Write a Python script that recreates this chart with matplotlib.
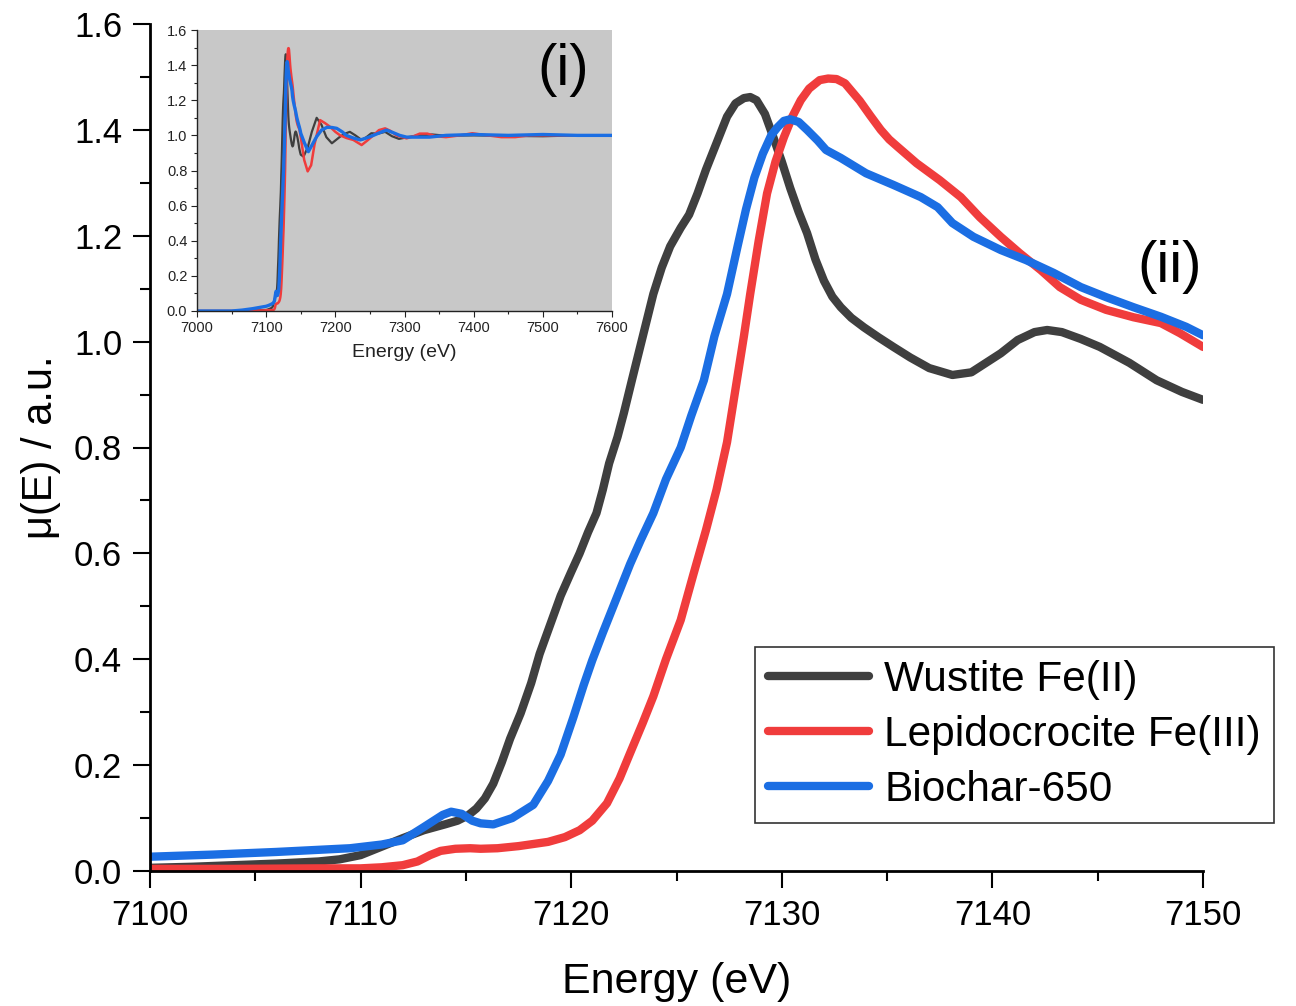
import matplotlib
matplotlib.use("Agg")
import matplotlib.pyplot as plt
from matplotlib.ticker import MultipleLocator

plt.rcParams['font.family'] = ['Liberation Sans', 'DejaVu Sans']

# ---------------- XANES region (7100-7150 eV) ----------------
wus_e = [7100, 7102, 7104, 7106, 7108, 7109, 7110, 7110.5, 7111, 7112, 7113, 7114, 7114.6,
         7115.1, 7115.5, 7115.9, 7116.3, 7116.7, 7117.1, 7117.6, 7118.1, 7118.5, 7119, 7119.5,
         7120, 7120.4, 7120.8, 7121.2, 7121.5, 7121.8, 7122.2, 7122.5, 7122.9, 7123.4, 7123.9,
         7124.3, 7124.7, 7125.2, 7125.6, 7126, 7126.4, 7126.9, 7127.4, 7127.8, 7128.2,
         7128.5, 7128.8, 7129.2, 7129.6, 7130, 7130.4, 7130.8, 7131.2, 7131.6, 7132.0,
         7132.4, 7132.8, 7133.3, 7133.9, 7134.6, 7135.3, 7136.1, 7137, 7138.1, 7139, 7139.7,
         7140.4, 7141.2, 7142, 7142.6, 7143.3, 7144.2, 7145.1, 7146.5, 7147.8, 7149, 7150]
wus_mu = [0.006, 0.008, 0.011, 0.014, 0.018, 0.022, 0.030, 0.038, 0.046, 0.062, 0.077, 0.088, 0.095,
          0.105, 0.118, 0.137, 0.165, 0.205, 0.250, 0.298, 0.355, 0.410, 0.465, 0.520,
          0.565, 0.600, 0.640, 0.676, 0.720, 0.770, 0.820, 0.865, 0.930, 1.010, 1.090,
          1.140, 1.180, 1.215, 1.240, 1.280, 1.325, 1.375, 1.425, 1.450, 1.460,
          1.462, 1.456, 1.430, 1.386, 1.340, 1.290, 1.245, 1.205, 1.155, 1.115,
          1.085, 1.065, 1.045, 1.027, 1.008, 0.990, 0.970, 0.950, 0.937, 0.942, 0.960,
          0.978, 1.003, 1.018, 1.022, 1.018, 1.005, 0.990, 0.960, 0.927, 0.905, 0.890]

lep_e = [7100, 7104, 7108, 7110, 7111, 7112, 7112.7, 7113.3, 7113.8, 7114.5, 7115.2,
         7115.7, 7116.5, 7117.5, 7118.9, 7119.7, 7120.4, 7121, 7121.7, 7122.3, 7122.8,
         7123.4, 7123.9, 7124.5, 7125.2, 7125.8, 7126.4, 7126.9, 7127.4, 7127.8, 7128.2,
         7128.5, 7128.9, 7129.3, 7129.7, 7130.1, 7130.5, 7130.9, 7131.3, 7131.8, 7132.2,
         7132.6, 7133.0, 7133.7, 7134.2, 7134.7, 7135.1, 7135.5, 7136.4, 7137.5, 7138.5,
         7139.4, 7140.4, 7141.3, 7142.3, 7143.2, 7144.2, 7145.4, 7146.7, 7148, 7148.9, 7150]
lep_mu = [0.004, 0.004, 0.005, 0.005, 0.007, 0.011, 0.018, 0.030, 0.038, 0.042, 0.043,
          0.042, 0.043, 0.047, 0.055, 0.064, 0.077, 0.095, 0.128, 0.175, 0.223,
          0.280, 0.330, 0.400, 0.474, 0.560, 0.644, 0.720, 0.810, 0.910, 1.010,
          1.090, 1.190, 1.280, 1.340, 1.386, 1.425, 1.456, 1.478, 1.494, 1.497,
          1.496, 1.488, 1.455, 1.427, 1.400, 1.382, 1.368, 1.337, 1.305, 1.273,
          1.235, 1.198, 1.167, 1.135, 1.103, 1.079, 1.060, 1.046, 1.035, 1.016, 0.990]

bio_e = [7100, 7103, 7106, 7109.5, 7111, 7112, 7113, 7113.9, 7114.3, 7114.8, 7115.3,
         7115.7, 7116.3, 7117.2, 7118.2, 7118.9, 7119.5, 7120.1, 7120.6, 7121, 7121.5,
         7122, 7122.8, 7123.3, 7123.9, 7124.5, 7125.2, 7125.7, 7126.3, 7126.8, 7127.4,
         7127.9, 7128.3, 7128.7, 7129.1, 7129.5, 7129.8, 7130.1, 7130.4, 7130.8, 7131.2,
         7131.7, 7132.1, 7132.8, 7134, 7135.3, 7136.6, 7137.4, 7138.1, 7139.1, 7140.4,
         7141.6, 7142.9, 7144.2, 7145.4, 7146.7, 7148, 7149.2, 7150]
bio_mu = [0.027, 0.031, 0.036, 0.043, 0.050, 0.058, 0.083, 0.106, 0.112, 0.108, 0.095,
          0.090, 0.088, 0.100, 0.125, 0.170, 0.220, 0.290, 0.352, 0.398, 0.450,
          0.500, 0.580, 0.625, 0.676, 0.740, 0.800, 0.860, 0.927, 1.010, 1.090,
          1.180, 1.250, 1.310, 1.355, 1.390, 1.405, 1.417, 1.420, 1.415, 1.400,
          1.380, 1.362, 1.347, 1.318, 1.296, 1.273, 1.254, 1.224, 1.198, 1.173,
          1.154, 1.130, 1.103, 1.084, 1.065, 1.047, 1.028, 1.012]

# ---------------- pre-edge (7000-7100 eV) ----------------
wus_pre_e = [7000, 7050, 7070, 7085, 7095]
wus_pre_mu = [0.0, 0.0, 0.002, 0.004, 0.005]
lep_pre_e = [7000, 7050, 7080, 7095]
lep_pre_mu = [0.0, 0.0, 0.002, 0.003]
bio_pre_e = [7000, 7050, 7065, 7080, 7090]
bio_pre_mu = [0.0, 0.0, 0.005, 0.013, 0.020]

# ---------------- EXAFS region (7150-7600 eV) ----------------
wus_post_e = [7154, 7160, 7166, 7173, 7180, 7187, 7195, 7207, 7214, 7221, 7229, 7238,
              7245, 7252, 7262, 7272, 7282, 7292, 7305, 7320, 7340, 7360, 7400, 7450,
              7500, 7550, 7600]
wus_post_mu = [0.879, 0.930, 1.020, 1.100, 1.060, 0.990, 0.955, 0.993, 1.010, 1.020, 1.000, 0.974,
               0.990, 1.012, 1.010, 1.020, 0.995, 0.980, 0.990, 1.000, 1.005, 0.998, 1.000, 0.997,
               0.995, 1.000, 1.000]
lep_post_e = [7155, 7160, 7165, 7170, 7178, 7185, 7192, 7200, 7207, 7216, 7226, 7238,
              7246, 7255, 7263, 7272, 7280, 7288, 7303, 7313, 7322, 7333, 7345, 7360,
              7380, 7398, 7420, 7440, 7460, 7480, 7520, 7560, 7600]
lep_post_mu = [0.860, 0.795, 0.830, 0.950, 1.087, 1.070, 1.050, 1.020, 1.000, 0.985, 0.974, 0.945,
               0.970, 1.000, 1.030, 1.040, 1.025, 1.000, 0.983, 0.995, 1.010, 1.010, 0.995, 0.990,
               1.000, 1.012, 1.000, 0.990, 0.990, 1.000, 1.000, 1.000, 1.000]
bio_post_e = [7155, 7161, 7167, 7173, 7180, 7188, 7195, 7202, 7210, 7216, 7226, 7236,
              7245, 7255, 7264, 7274, 7284, 7293, 7303, 7312, 7336, 7360, 7400, 7450,
              7500, 7550, 7600]
bio_post_mu = [0.960, 0.907, 0.950, 0.993, 1.030, 1.046, 1.045, 1.040, 1.020, 1.000, 0.985, 0.974,
               0.985, 1.000, 1.015, 1.030, 1.015, 1.000, 0.990, 0.990, 0.990, 1.000, 1.005, 1.000,
               1.005, 1.000, 1.000]

labels = ["Wustite Fe(II)", "Lepidocrocite Fe(III)", "Biochar-650"]
colors = ["#3f3f3f", "#f03c3c", "#1b6ee3"]

W, H = 1296, 1006
fig = plt.figure(figsize=(W / 100, H / 100), dpi=100)

# main XANES axes
ax = fig.add_axes([150 / W, 1 - 871 / H, (1203 - 150) / W, (871 - 24) / H])
series = [(wus_e, wus_mu), (lep_e, lep_mu), (bio_e, bio_mu)]
for (e, mu), lab, col in zip(series, labels, colors):
    ax.plot(e, mu, color=col, lw=6.0, label=lab, solid_capstyle='round',
            solid_joinstyle='round')

ax.set_xlim(7100, 7150)
ax.set_ylim(0, 1.6)
ax.xaxis.set_major_locator(MultipleLocator(10))
ax.xaxis.set_minor_locator(MultipleLocator(5))
ax.yaxis.set_major_locator(MultipleLocator(0.2))
ax.yaxis.set_minor_locator(MultipleLocator(0.1))
ax.yaxis.set_major_formatter(plt.FuncFormatter(lambda v, p: f"{v:.1f}"))
for s in ["top", "right"]:
    ax.spines[s].set_visible(False)
for s in ["left", "bottom"]:
    ax.spines[s].set_linewidth(2.0)
ax.tick_params(which="major", direction="out", length=12, width=1.5, labelsize=25, pad=8)
ax.tick_params(which="minor", direction="out", length=7, width=1.5)
ax.set_xlabel("Energy (eV)", fontsize=31, labelpad=22)
ax.set_ylabel("μ(E) / a.u.", fontsize=30, labelpad=9)

leg = ax.legend(loc="upper left", bbox_to_anchor=(755 / W, 1 - 647 / H),
                bbox_transform=fig.transFigure, borderaxespad=0, fontsize=30.5,
                frameon=True, fancybox=False, edgecolor="#333333", framealpha=1,
                handlelength=2.4, handletextpad=0.35, labelspacing=0.36, borderpad=0.3)
leg.get_frame().set_linewidth(1.2)
for h in leg.get_lines():
    h.set_linewidth(6.0)

# inset with the full spectra
axi = fig.add_axes([197 / W, 1 - 311 / H, (612 - 197) / W, (311 - 30) / H])
axi.set_facecolor("#c8c8c8")
full = [
    (wus_pre_e + wus_e + wus_post_e, wus_pre_mu + wus_mu + wus_post_mu, 1.6),
    (lep_pre_e + lep_e + lep_post_e, lep_pre_mu + lep_mu + lep_post_mu, 1.8),
    (bio_pre_e + bio_e + bio_post_e, bio_pre_mu + bio_mu + bio_post_mu, 2.4),
]
for (e, mu, lw), col in zip(full, colors):
    axi.plot(e, mu, color=col, lw=lw)
axi.set_xlim(7000, 7600)
axi.set_ylim(0, 1.6)
axi.xaxis.set_major_locator(MultipleLocator(100))
axi.xaxis.set_minor_locator(MultipleLocator(50))
axi.yaxis.set_major_locator(MultipleLocator(0.2))
axi.yaxis.set_minor_locator(MultipleLocator(0.1))
axi.yaxis.set_major_formatter(plt.FuncFormatter(lambda v, p: f"{v:.1f}"))
for s in ["top", "right"]:
    axi.spines[s].set_visible(False)
for s in ["left", "bottom"]:
    axi.spines[s].set_linewidth(1.0)
    axi.spines[s].set_color("#222222")
axi.tick_params(which="major", direction="out", length=4, width=0.8, labelsize=10.5, pad=3,
                colors="#222222")
axi.tick_params(which="minor", direction="out", length=2, width=0.8, colors="#222222")
axi.set_xlabel("Energy (eV)", fontsize=14, labelpad=7, color="#222222")

fig.text(563 / W, 1 - 70 / H, "(i)", fontsize=42, ha="center", va="center")
fig.text(1170 / W, 1 - 267 / H, "(ii)", fontsize=42, ha="center", va="center")

fig.savefig("out.png", dpi=100)
